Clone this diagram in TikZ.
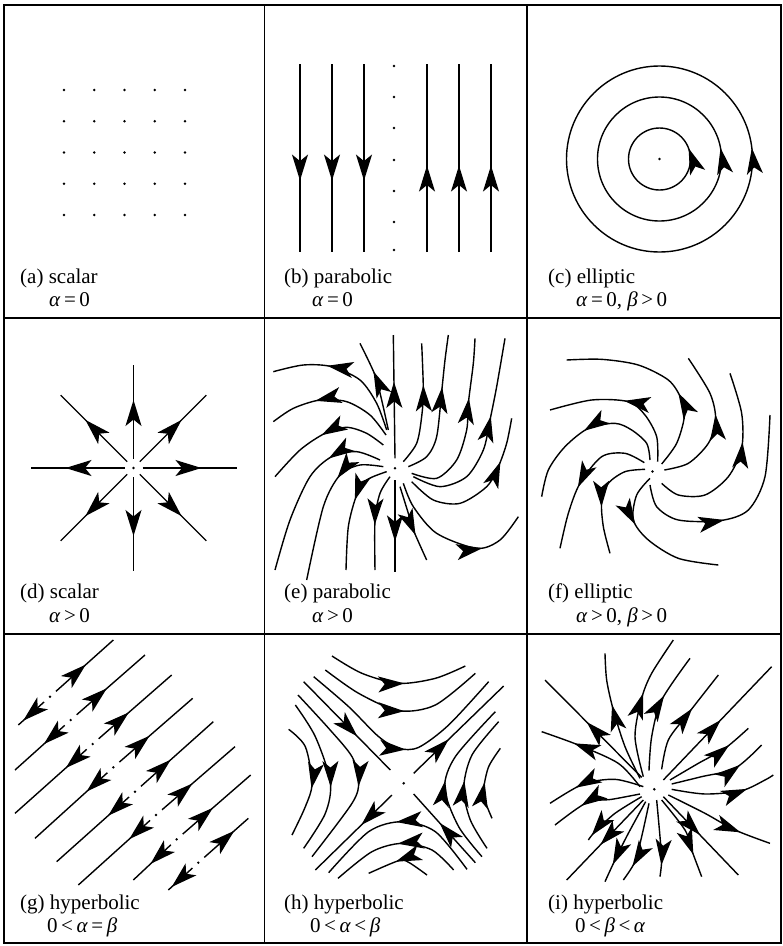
\documentclass[tikz,border=0pt]{standalone}
\usepackage{fontspec}
\setmainfont{Liberation Serif}
\usetikzlibrary{arrows.meta, decorations.markings}
\newcommand{\ga}{\textit{α}}
\newcommand{\gb}{\textit{β}}
\tikzset{flowtip/.tip={Stealth[length=26pt, width=16pt, inset=6.5pt]}}

\begin{document}
\begin{tikzpicture}[x=1pt, y=-1pt,
  gridline/.style={line width=1.7pt},
  flow/.style={line width=1.4pt},
  arw/.style={postaction={decorate},
              decoration={markings, mark=at position #1 with {\arrow{flowtip}}}},
  lbl/.style={anchor=base west, inner sep=0pt, font=\fontsize{21}{24}\selectfont},
  zoomed/.style={shift={#1}, scale=1/3},
]
  \useasboundingbox (0,0) rectangle (783,946);

  \draw[gridline] (4,5) rectangle (781,943);
  \draw[gridline] (264.5,5) -- (264.5,943);
  \draw[gridline] (527,5) -- (527,943);
  \draw[gridline] (4,318) -- (781,318);
  \draw[gridline] (4,634) -- (781,634);

  % (a)
  \foreach \i in {0,...,4}
    \foreach \j in {0,...,4}
      \fill (64+30.25*\i, 90+31.25*\j) circle[radius=1.3];

  % (b)
  \foreach \x in {300,332,364}
    \draw[flow, arw=0.62] (\x,64) -- (\x,252);
  \foreach \x in {427,459,491}
    \draw[flow, arw=0.46] (\x,252) -- (\x,64);
  \foreach \y in {66,97,128,160,191,222,250}
    \fill (394,\y) circle[radius=1.3];

  % (c)
  \foreach \r in {31,62,93}
    \draw[flow, arw=11pt] (659.5+\r,159) arc[start angle=0, end angle=-360, radius=\r];
  \fill (659.5,159) circle[radius=1.4];

  % (d)
  \begin{scope}[shift={(133.5,468)}]
    \foreach \a in {0,45,...,315}
      \draw[flow, shorten <=9pt, arw=68pt] (0,0) -- (\a:103);
    \fill (0,0) circle[radius=1.4];
  \end{scope}

  % (e)
  \begin{scope}[zoomed={(260,320)}]
    \draw[flow, arw=0.62] (405,415) -- (400,45);
    \draw[flow, arw=0.67] (405,480) -- (405,755);
    \draw[flow, arw=0.66] plot[smooth] coordinates {(385,330) (365,240) (345,165) (300,70)};
    \draw[flow, arw=0.63] plot[smooth] coordinates {(380,330) (350,250) (300,180) (215,140) (130,135) (40,155)};
    \draw[flow, arw=0.64] plot[smooth] coordinates {(378,345) (330,285) (260,245) (180,240) (100,265) (40,305)};
    \draw[flow, arw=0.52] plot[smooth] coordinates {(370,375) (320,340) (260,322) (195,340) (120,390) (45,470)};
    \draw[flow, arw=0.30] plot[smooth] coordinates {(360,420) (290,395) (215,410) (150,470) (90,600) (45,750)};
    \draw[flow, arw=0.32] plot[smooth] coordinates {(370,440) (300,435) (240,465) (190,560) (140,780)};
    \draw[flow, arw=0.39] plot[smooth] coordinates {(380,455) (320,480) (290,525) (265,620) (258,750)};
    \draw[flow, arw=0.53] plot[smooth] coordinates {(390,470) (360,520) (345,600) (345,750)};
    \draw[flow, arw=0.65] plot[smooth] coordinates {(420,500) (445,580) (460,630) (500,720)};
    \draw[flow, arw=0.69] plot[smooth] coordinates {(430,490) (460,560) (530,640) (650,685) (720,660) (775,590)};
    \draw[flow, arw=0.72] plot[smooth] coordinates {(455,485) (520,540) (600,550) (680,500) (715,440) (740,370) (755,295)};
    \draw[flow, arw=0.61] plot[smooth] coordinates {(460,470) (540,500) (620,470) (670,390) (690,300) (710,200) (735,55)};
    \draw[flow, arw=0.66] plot[smooth] coordinates {(455,460) (530,475) (590,420) (620,330) (625,250) (640,130) (645,55)};
    \draw[flow, arw=0.64] plot[smooth] coordinates {(445,440) (500,410) (530,350) (545,215) (555,120) (565,45)};
    \draw[flow, arw=0.66] plot[smooth] coordinates {(430,425) (470,370) (485,290) (490,210) (485,70)};
  \end{scope}
  \fill (395,468.3) circle[radius=1.4];

  % (f)
  \begin{scope}[zoomed={(525,320)}]
    \draw[flow, arw=0.39] plot[smooth] coordinates {(410,432) (455,370) (478,290) (468,235) (430,180) (340,135) (230,118) (125,120)};
    \draw[flow, arw=0.50] plot[smooth] coordinates {(398,425) (395,350) (360,285) (310,245) (200,240) (75,270)};
    \draw[flow, arw=0.52] plot[smooth] coordinates {(375,420) (365,370) (320,330) (270,310) (190,325) (120,380) (70,450) (50,530)};
    \draw[flow, arw=0.57] plot[smooth] coordinates {(358,428) (300,400) (230,410) (165,490) (130,580) (105,685)};
    \draw[flow, arw=0.58] plot[smooth] coordinates {(360,448) (300,455) (250,490) (230,545) (235,620) (255,700)};
    \draw[flow, arw=0.35] plot[smooth] coordinates {(375,475) (335,525) (325,600) (370,660) (460,715) (580,735)};
    \draw[flow, arw=0.43] plot[smooth] coordinates {(375,495) (395,560) (460,600) (585,602) (670,570) (720,470) (735,285)};
    \draw[flow, arw=0.62] plot[smooth] coordinates {(410,490) (460,525) (540,525) (610,470) (650,385) (650,280) (615,160)};
    \draw[flow, arw=0.57] plot[smooth] coordinates {(418,450) (490,430) (550,370) (572,300) (555,220) (490,115)};
  \end{scope}
  \fill (652.5,471.5) circle[radius=1.4];

  % (g)
  \begin{scope}[zoomed={(0,640)}]
    \foreach \ax/\ay/\dx/\dy/\bx/\by in {55/255/150/170/340/0, 45/390/212/240/435/45,
        45/520/278/312/515/105, 105/595/340/382/578/175, 170/665/405/455/640/245,
        235/735/468/525/705/320, 400/720/530/598/752/405, 505/750/595/668/745/535}{
      \draw[flow, shorten <=8pt, arw=48pt] (\dx,\dy) -- (\bx,\by);
      \draw[flow, shorten <=8pt, arw=36pt] (\dx,\dy) -- (\ax,\ay);
      \fill (\dx,\dy) circle[radius=4];
    }
  \end{scope}

  % (h)
  \begin{scope}[zoomed={(262,640)}]
    \draw[flow, arw=0.62] (125,125) -- (385,390);
    \draw[flow, arw=0.58] (640,668) -- (455,462);
    \draw[flow, arw=0.39] (455,400) -- (725,138);
    \draw[flow, arw=0.40] (390,465) -- (160,690);
    \draw[flow, arw=0.55] plot[smooth] coordinates {(210,48) (300,100) (410,130) (520,115) (610,78)};
    \draw[flow, arw=0.52] plot[smooth] coordinates {(190,90) (290,160) (410,212) (520,195) (640,100)};
    \draw[flow, arw=0.52] plot[smooth] coordinates {(155,110) (260,200) (350,290) (410,325) (470,322) (560,255) (680,125)};
    \draw[flow, arw=0.57] plot[smooth] coordinates {(80,268) (130,320) (150,430) (130,500) (90,585)};
    \draw[flow, arw=0.57] plot[smooth] coordinates {(100,195) (160,290) (205,425) (190,520) (125,625)};
    \draw[flow, arw=0.57] plot[smooth] coordinates {(108,165) (200,265) (270,350) (290,425) (270,490) (150,650)};
    \draw[flow, arw=0.50] plot[smooth] coordinates {(660,650) (590,560) (548,445) (580,350) (700,215)};
    \draw[flow, arw=0.51] plot[smooth] coordinates {(675,625) (625,540) (605,445) (630,345) (710,245)};
    \draw[flow, arw=0.50] plot[smooth] coordinates {(690,535) (668,480) (665,445) (680,380) (715,325)};
    \draw[flow, arw=0.51] plot[smooth] coordinates {(615,688) (520,575) (420,545) (320,575) (200,698)};
    \draw[flow, arw=0.48] plot[smooth] coordinates {(575,690) (510,630) (420,610) (330,635) (228,715)};
    \draw[flow, arw=0.55] plot[smooth] coordinates {(495,705) (440,667) (410,662) (320,700)};
  \end{scope}
  \fill (403.7,783.3) circle[radius=1.4];

  % (i)
  \begin{scope}[zoomed={(525,640)}]
    \draw[flow, arw=0.57] (350,412) -- (60,120);
    \draw[flow, arw=0.70] plot[smooth] coordinates {(345,440) (280,370) (160,315) (50,275)};
    \draw[flow, arw=0.70] plot[smooth] coordinates {(355,440) (270,418) (175,432) (75,490)};
    \draw[flow, arw=0.60] plot[smooth] coordinates {(345,415) (300,320) (265,210) (245,120) (240,40)};
    \draw[flow, arw=0.58] plot[smooth] coordinates {(355,410) (330,290) (350,175) (380,100) (445,0)};
    \draw[flow, arw=0.63] plot[smooth] coordinates {(372,392) (380,290) (410,180) (495,55)};
    \draw[flow, arw=0.62] plot[smooth] coordinates {(410,388) (430,300) (490,220) (580,105)};
    \draw[flow, arw=0.53] (415,420) -- (740,80);
    \draw[flow, arw=0.73] plot[smooth] coordinates {(435,420) (520,370) (600,325) (670,265)};
    \draw[flow, arw=0.71] plot[smooth] coordinates {(440,432) (530,410) (630,385) (710,315)};
    \draw[flow, arw=0.72] plot[smooth] coordinates {(440,448) (540,462) (650,452) (720,420) (745,405)};
    \draw[flow, arw=0.65] plot[smooth] coordinates {(345,462) (260,478) (185,488) (90,555)};
    \draw[flow, arw=0.92] plot[smooth] coordinates {(350,470) (270,520) (210,575) (190,600)};
    \draw[flow, arw=0.56] (355,480) -- (125,720);
    \draw[flow, arw=0.79] plot[smooth] coordinates {(362,485) (310,580) (270,660) (240,725)};
    \draw[flow, arw=0.80] plot[smooth] coordinates {(372,490) (350,590) (330,665) (295,720)};
    \draw[flow, arw=0.85] plot[smooth] coordinates {(395,480) (405,590) (410,660) (405,710)};
    \draw[flow, arw=0.73] plot[smooth] coordinates {(410,480) (480,570) (500,630) (530,710)};
    \draw[flow, arw=0.49] (415,470) -- (640,705);
    \draw[flow, arw=0.72] plot[smooth] coordinates {(430,465) (540,520) (630,570) (735,610)};
  \end{scope}
  \fill (654.3,789.3) circle[radius=1.4];

  % labels
  \node[lbl] (la) at (20,283) {(a) scalar};
  \node[lbl] (lac) at (49,306) {\ga\,=\,0};
  \node[lbl] (lb) at (284,283) {(b) parabolic};
  \node[lbl] (lbc) at (312,306) {\ga\,=\,0};
  \node[lbl] (lc) at (548,283) {(c) elliptic};
  \node[lbl] (lcc) at (576,306) {\ga\,=\,0, \gb\,>\,0};
  \node[lbl] (ld) at (20,598) {(d) scalar};
  \node[lbl] (ldc) at (49,622) {\ga\,>\,0};
  \node[lbl] (le) at (284,598) {(e) parabolic};
  \node[lbl] (lec) at (312,622) {\ga\,>\,0};
  \node[lbl] (lf) at (548,598) {(f) elliptic};
  \node[lbl] (lfc) at (576,622) {\ga\,>\,0, \gb\,>\,0};
  \node[lbl] (lg) at (20,909) {(g) hyperbolic};
  \node[lbl] (lgc) at (47,932) {0\,<\,\ga\,=\,\gb};
  \node[lbl] (lh) at (284,909) {(h) hyperbolic};
  \node[lbl] (lhc) at (310,932) {0\,<\,\ga\,<\,\gb};
  \node[lbl] (li) at (548,909) {(i) hyperbolic};
  \node[lbl] (lic) at (575,932) {0\,<\,\gb\,<\,\ga};
\end{tikzpicture}
\end{document}
